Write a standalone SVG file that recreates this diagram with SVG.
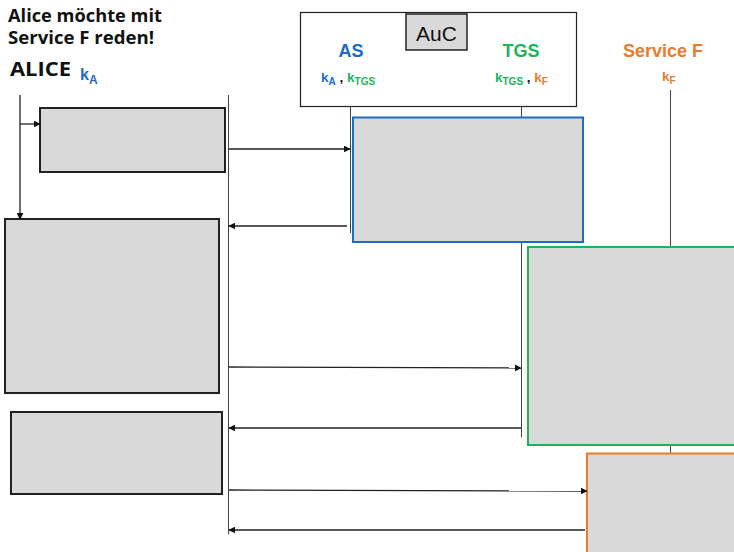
<svg xmlns="http://www.w3.org/2000/svg" width="734" height="552" viewBox="0 0 734 552">
<style>
.t{font-family:"Liberation Sans",Arial,sans-serif;font-weight:bold}
.h{font-family:"Open Sans","Liberation Sans",sans-serif;font-weight:bold;fill:#111}
.blue{fill:#1a6cc4}.green{fill:#1db45c}.orange{fill:#e97b2f}
.life{stroke:#444;stroke-width:1;fill:none}
.msg{stroke:#222;stroke-width:1.3;fill:none;marker-end:url(#ah)}
.box{fill:#d9d9d9;stroke:#222;stroke-width:2}
</style>
<defs>
<marker id="ah" viewBox="0 0 10 10" refX="9" refY="5" markerWidth="7" markerHeight="7" markerUnits="userSpaceOnUse" orient="auto"><path d="M0,0 L10,5 L0,10 z" fill="#111"/></marker>
</defs>
<rect width="734" height="552" fill="#fff"/>
<g id="title">
<text class="h" x="8" y="22" font-size="17.5" textLength="154" lengthAdjust="spacingAndGlyphs">Alice möchte mit</text>
<text class="h" x="8" y="44" font-size="17.5" textLength="146" lengthAdjust="spacingAndGlyphs">Service F reden!</text>
</g>
<g id="alice-head">
<text class="h" x="10" y="76" font-size="19.5" textLength="61" lengthAdjust="spacingAndGlyphs">ALICE</text>
<text class="t blue" x="80" y="80" font-size="16">k<tspan font-size="12" dy="4">A</tspan></text>
</g>
<g id="auc">
<rect x="300.5" y="12.5" width="276" height="94" fill="#fff" stroke="#222" stroke-width="1.2"/>
<rect x="406" y="14" width="61" height="36" fill="#d9d9d9" stroke="#222" stroke-width="1.5"/>
<text x="436.5" y="41" font-size="21" text-anchor="middle" font-family="Liberation Sans,Arial,sans-serif" fill="#111">AuC</text>
</g>
<g id="as-head">
<text class="t blue" x="351" y="57" font-size="18" text-anchor="middle">AS</text>
<text class="t" x="321" y="82" font-size="13.5"><tspan class="blue">k<tspan font-size="10" dy="3">A</tspan></tspan><tspan dy="-3" fill="#111"> , </tspan><tspan class="green">k<tspan font-size="10" dy="3">TGS</tspan></tspan></text>
</g>
<g id="tgs-head">
<text class="t green" x="521" y="57" font-size="18" text-anchor="middle">TGS</text>
<text class="t" x="495" y="82" font-size="13.5"><tspan class="green">k<tspan font-size="10" dy="3">TGS</tspan></tspan><tspan dy="-3" fill="#111"> , </tspan><tspan class="orange">k<tspan font-size="10" dy="3">F</tspan></tspan></text>
</g>
<g id="servicef-head">
<text class="t orange" x="663" y="57" font-size="18" text-anchor="middle">Service F</text>
<text class="t orange" x="662" y="81" font-size="13.5">k<tspan font-size="10" dy="3">F</tspan></text>
</g>
<g id="lifelines">
<line class="life" x1="228.5" y1="95" x2="228.5" y2="534"/>
<line class="life" x1="350.5" y1="106" x2="350.5" y2="233" stroke="#777"/>
<line class="life" x1="521.5" y1="106" x2="521.5" y2="437"/>
<line class="life" x1="670.5" y1="90" x2="670.5" y2="454" stroke="#777"/>
</g>
<g id="alice-box1"><rect class="box" x="40" y="108" width="185" height="64"/></g>
<g id="alice-box2"><rect class="box" x="5" y="219" width="214" height="174"/></g>
<g id="alice-box3"><rect class="box" x="11" y="412" width="211" height="82"/></g>
<g id="as-box"><rect x="353" y="117.5" width="230" height="124.5" fill="#d9d9d9" stroke="#1a6cc4" stroke-width="2"/></g>
<g id="tgs-box"><rect x="528" y="247" width="210" height="198" fill="#d9d9d9" stroke="#1db45c" stroke-width="2"/></g>
<g id="servicef-box"><rect x="587" y="453.5" width="150" height="110" fill="#d9d9d9" stroke="#e97b2f" stroke-width="2"/></g>
<g id="connectors">
<line class="msg" x1="20" y1="95" x2="20" y2="219"/>
<line class="msg" x1="20" y1="124" x2="40" y2="124"/>
<line class="msg" x1="229" y1="149" x2="350" y2="149"/>
<line class="msg" x1="347" y1="226" x2="229" y2="226"/>
<line class="msg" x1="229" y1="367" x2="521" y2="368"/>
<line class="msg" x1="521" y1="428" x2="229" y2="428"/>
<line class="msg" x1="229" y1="490" x2="587" y2="491"/>
<line class="msg" x1="585" y1="530" x2="229" y2="530"/>
</g>
</svg>
